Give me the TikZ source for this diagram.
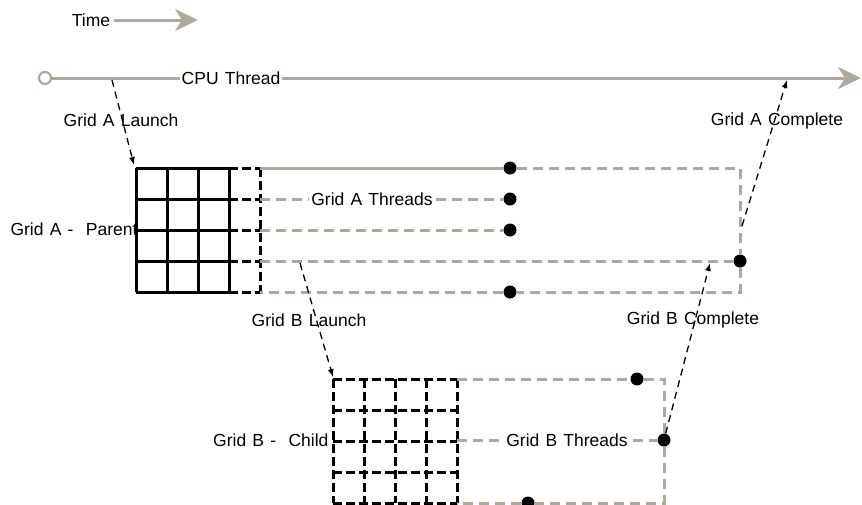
\documentclass[tikz,border=0pt]{standalone}
\usepackage{fontspec}
\setmainfont{Liberation Sans}
\usetikzlibrary{arrows.meta}
\definecolor{threadgrey}{RGB}{176,169,155}
\newcommand\labelfont{\fontsize{17.5}{20}\selectfont\spaceskip=6.2pt\relax}

\begin{document}
\begin{tikzpicture}[x=1pt,y=-1pt,
  font=\labelfont,
  timeline/.style={threadgrey,line width=3pt,-{Stealth[length=23pt,width=22pt,inset=7pt]}},
  thread/.style={threadgrey,line width=3pt,dash pattern=on 10pt off 6pt},
  cell/.style={black,line width=3pt},
  dcell/.style={black,line width=3pt,dash pattern=on 9pt off 4pt},
  event/.style={black,line width=1.3pt,dash pattern=on 7pt off 5pt,-{Latex[length=8pt,width=6pt]}},
  dot/.style={circle,fill=black,inner sep=0pt,minimum size=13pt},
  gap/.style={fill=white,inner sep=2pt}]

\useasboundingbox (0,0) rectangle (862,504);

% Time
\node (time) at (91,20) {Time};
\coordinate (timeEnd) at (198,20);
\draw[timeline] (time) -- (timeEnd);

% CPU thread
\node[circle,draw=threadgrey,line width=2.2pt,minimum size=12pt,inner sep=0pt] (cpuStart) at (45,78) {};
\coordinate (cpuEnd) at (861,78);
\draw[timeline] (cpuStart) -- (cpuEnd);
\node[gap] (cpu) at (231,78) {CPU Thread};

% Grid A (parent)
\foreach \i in {0,...,3}
{
\draw[cell] (136+31*\i,168) -- (136+31*\i,292);
}
\foreach \j in {0,...,4}
{
\draw[cell] (136,168+31*\j) -- (229,168+31*\j);
\draw[dcell] (229,168+31*\j) -- (260,168+31*\j);
}
\draw[dcell] (260,168) -- (260,292);
\coordinate (gridA) at (134,165);
\node[anchor=east] (parent) at (141,229) {Grid A - ~Parent};

% Grid A threads
\node[dot] (a1) at (510,168) {};
\node[dot] (a2) at (510,199) {};
\node[dot] (a3) at (510,230) {};
\node[dot] (a4) at (740,261) {};
\node[dot] (a5) at (510,292) {};
\draw[threadgrey,line width=3pt] (260,168) -- (a1);
\draw[thread] (a1) -- (740,168) -- (a4);
\draw[thread] (a4) -- (740,292) -- (a5);
\draw[thread] (a5) -- (260,292);
\draw[thread] (260,199) -- (a2);
\draw[thread] (260,230) -- (a3);
\draw[thread] (260,261) -- (a4);
\node[gap] (threadsA) at (372,199) {Grid A Threads};

% Grid B (child)
\foreach \i in {0,...,4}
{
\draw[dcell] (333+31*\i,379) -- (333+31*\i,503);
\draw[dcell] (333,379+31*\i) -- (457,379+31*\i);
}
\coordinate (gridB) at (333,377);
\node[anchor=east] (child) at (332,440) {Grid B - ~Child};

% Grid B threads
\node[dot] (b1) at (637,379) {};
\node[dot] (b2) at (664,440) {};
\node[dot] (b3) at (528,503) {};
\draw[thread] (457,379) -- (b1);
\draw[thread] (b1) -- (664,379) -- (b2);
\draw[thread] (b2) -- (664,503) -- (b3);
\draw[thread] (b3) -- (457,503);
\draw[thread] (457,440) -- (b2);
\node[gap] (threadsB) at (567,440) {Grid B Threads};

% Launch and complete events
\coordinate (launchA) at (112,80);
\coordinate (launchB) at (300,263);
\coordinate (doneA) at (742,226);
\coordinate (joinA) at (787,80);
\coordinate (joinB) at (710,263);
\draw[event] (launchA) -- (gridA);
\draw[event] (launchB) -- (gridB);
\draw[event] (doneA) -- (joinA);
\draw[event] (b2) -- (joinB);
\node (launchAlabel) at (121,120) {Grid A Launch};
\node (launchBlabel) at (309,320) {Grid B Launch};
\node (doneAlabel) at (777,121) {Grid A Complete};
\node (doneBlabel) at (693,320) {Grid B Complete};

\end{tikzpicture}
\end{document}
